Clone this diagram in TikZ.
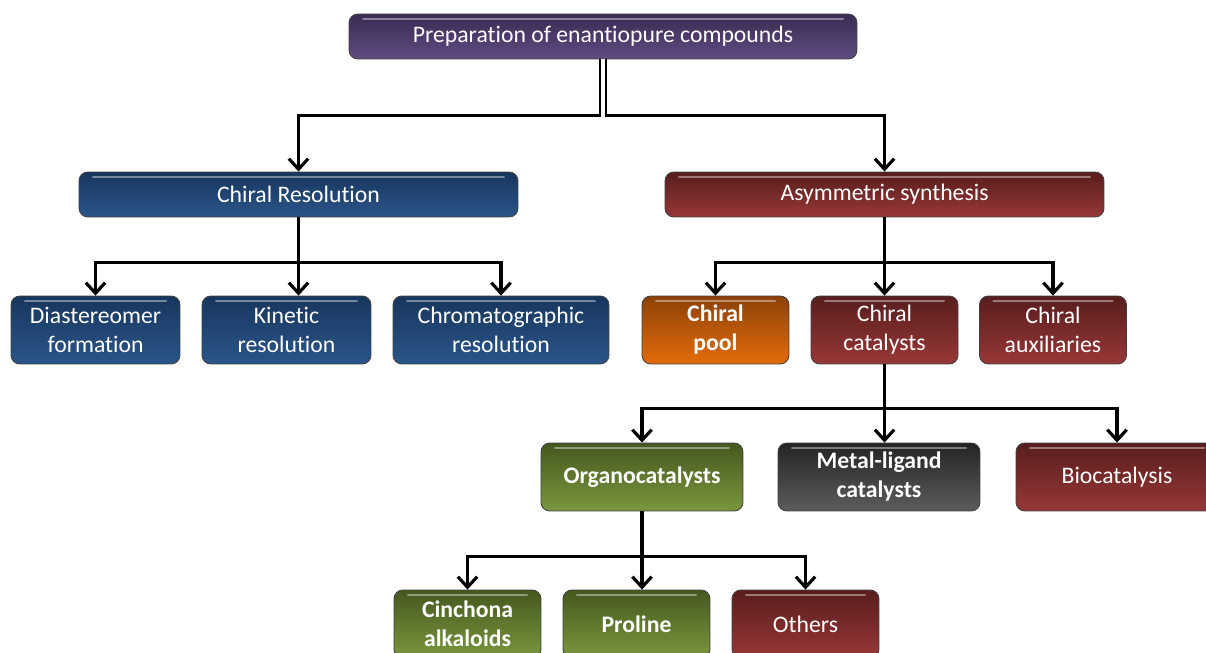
\documentclass[tikz,border=0pt]{standalone}
\usepackage{fontspec}
\setmainfont{Carlito}[Ligatures=NoCommon]
\usetikzlibrary{arrows.meta}

\definecolor{purtop}{HTML}{3B2A52}
\definecolor{purbot}{HTML}{604C82}
\definecolor{blutop}{HTML}{17365D}
\definecolor{blubot}{HTML}{2A5589}
\definecolor{redtop}{HTML}{581D1D}
\definecolor{redbot}{HTML}{983737}
\definecolor{orgtop}{HTML}{8C4108}
\definecolor{orgbot}{HTML}{E46C0A}
\definecolor{grntop}{HTML}{45581F}
\definecolor{grnbot}{HTML}{7A973E}
\definecolor{grytop}{HTML}{242424}
\definecolor{grybot}{HTML}{5C5C5C}

\tikzset{
  box/.style={rounded corners=5pt, draw=black!75, line width=0.5pt, text=white,
    align=center, inner sep=0pt, font=\fontsize{13.5}{16.5}\selectfont,
    path picture={\draw[white,opacity=0.4,line width=1.4pt,line cap=round]
      ([xshift=8pt,yshift=-2.8pt]path picture bounding box.north west) --
      ([xshift=-8pt,yshift=-2.8pt]path picture bounding box.north east);}},
  purplebox/.style={box, top color=purtop, bottom color=purbot},
  bluebox/.style={box, top color=blutop, bottom color=blubot},
  redbox/.style={box, top color=redtop, bottom color=redbot},
  orangebox/.style={box, top color=orgtop, bottom color=orgbot},
  greenbox/.style={box, top color=grntop, bottom color=grnbot},
  greybox/.style={box, top color=grytop, bottom color=grybot},
  bold/.style={font=\fontsize{13.5}{16.5}\selectfont\bfseries},
  link/.style={line width=1.8pt, -{Straight Barb[length=6pt,width=11pt]}},
}

\begin{document}
\begin{tikzpicture}[x=0.02cm, y=-0.02cm]
	\useasboundingbox (0,0) rectangle (1206,652);

	\node[purplebox, minimum width=10.16cm, minimum height=0.9cm] (prep) at (603,36.5) {Preparation of enantiopure compounds};

	\node[bluebox, minimum width=8.78cm, minimum height=0.9cm] (chres) at (298.5,194.5) {Chiral Resolution};
	\node[redbox, minimum width=8.78cm, minimum height=0.9cm] (asym) at (884.5,194.5) {Asymmetric synthesis};

	\node[bluebox, minimum width=3.38cm, minimum height=1.36cm] (diast) at (95.5,330) {Diastereomer\\formation};
	\node[bluebox, minimum width=3.38cm, minimum height=1.36cm] (kinet) at (286.5,330) {Kinetic\\resolution};
	\node[bluebox, minimum width=4.32cm, minimum height=1.36cm] (chrom) at (501,330) {Chromatographic\\resolution};

	\node[orangebox, bold, minimum width=2.94cm, minimum height=1.36cm] (pool) at (715.5,330) {Chiral\\pool};
	\node[redbox, minimum width=2.94cm, minimum height=1.36cm] (cat) at (884.5,330) {Chiral\\catalysts};
	\node[redbox, minimum width=2.94cm, minimum height=1.36cm] (aux) at (1053,330) {Chiral\\auxiliaries};

	\node[greenbox, bold, minimum width=4.04cm, minimum height=1.36cm] (organo) at (642,477) {Organocatalysts};
	\node[greybox, bold, minimum width=4.04cm, minimum height=1.36cm] (metal) at (879,477) {Metal-ligand\\catalysts};
	\node[redbox, minimum width=4.04cm, minimum height=1.36cm] (bio) at (1117,477) {Biocatalysis};

	\node[greenbox, bold, minimum width=2.94cm, minimum height=1.36cm] (cinch) at (467.5,624) {Cinchona\\alkaloids};
	\node[greenbox, bold, minimum width=2.94cm, minimum height=1.36cm] (prol) at (636.5,624) {Proline};
	\node[redbox, minimum width=2.94cm, minimum height=1.36cm] (others) at (805.5,624) {Others};

	\draw[link] (prep.south) ++(0,56) -| (chres.north);
	\draw[link] (prep.south) ++(0,56) -| (asym.north);
	\draw[line width=1.1pt, double, double distance=1.8pt] (prep.south) -- ++(0,58);

	\draw[link] (chres.south) -- ++(0,45) -| (diast.north);
	\draw[link] (chres.south) -- ++(0,45) -| (chrom.north);
	\draw[link] (chres.south) -- (chres.south |- kinet.north);

	\draw[link] (asym.south) -- ++(0,45) -| (pool.north);
	\draw[link] (asym.south) -- ++(0,45) -| (aux.north);
	\draw[link] (asym.south) -- (cat.north);

	\draw[link] (cat.south) -- ++(0,44) -| (organo.north);
	\draw[link] (cat.south) -- ++(0,44) -| (bio.north);
	\draw[link] (cat.south) -- (cat.south |- metal.north);

	\draw[link] (organo.south) -- ++(0,45) -| (cinch.north);
	\draw[link] (organo.south) -- ++(0,45) -| (others.north);
	\draw[link] (organo.south) -- (organo.south |- prol.north);
\end{tikzpicture}
\end{document}
